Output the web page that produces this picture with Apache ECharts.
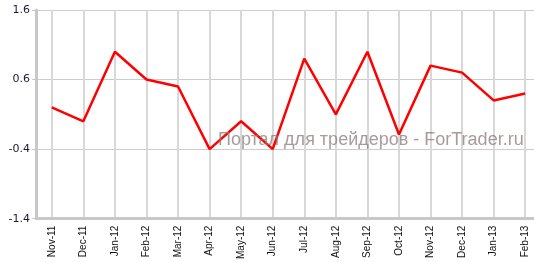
<!DOCTYPE html>
<html><head><meta charset="utf-8">
<script src="https://cdn.jsdelivr.net/npm/echarts@6/dist/echarts.min.js"></script>
<style>html,body{margin:0;padding:0;background:#fff;overflow:hidden;width:534px;height:262px}#c{width:541px;height:262px}</style>
</head><body><div id="c"></div>
<script>
const categories = ['Nov-11','Dec-11','Jan-12','Feb-12','Mar-12','Apr-12','May-12','Jun-12','Jul-12','Aug-12','Sep-12','Oct-12','Nov-12','Dec-12','Jan-13','Feb-13'];
const values = [0.2, 0.0, 1.0, 0.6, 0.5, -0.4, 0.0, -0.4, 0.9, 0.1, 1.0, -0.19, 0.8, 0.7, 0.3, 0.4];
const yTicks = [-1.4, -0.4, 0.6, 1.6];
const watermark = 'Портал для трейдеров - ForTrader.ru';

const chart = echarts.init(document.getElementById('c'), null, {renderer:'canvas'});
chart.setOption({
  animation: false,
  backgroundColor: '#fff',
  grid: {left: 36, right: 0, top: 10, bottom: 42, containLabel: false},
  xAxis: {
    type: 'category', data: categories, boundaryGap: true,
    axisLine: {show: true, onZero: false, lineStyle: {color: '#c8c8c8', width: 3}},
    axisTick: {show: false, alignWithLabel: true},
    axisLabel: {rotate: 90, fontFamily: 'Liberation Sans', fontSize: 10, color: '#111', margin: 7, interval: 0},
    splitLine: {show: true, alignWithLabel: true, lineStyle: {color: '#d8d8d8', width: 2}}
  },
  yAxis: {
    type: 'value', min: yTicks[0], max: yTicks[yTicks.length-1], interval: 1,
    axisLine: {show: true, lineStyle: {color: '#c8c8c8', width: 3}},
    axisTick: {show: true, length: 4, lineStyle: {color: '#c8c8c8'}},
    axisLabel: {fontFamily: 'DejaVu Sans', fontSize: 11, color: '#1a1a33', margin: 6,
      formatter: v => v.toFixed(1)},
    splitLine: {show: true, lineStyle: {color: '#cccccc', width: 1}}
  },
  series: [{
    type: 'line', data: values, symbol: 'none',
    lineStyle: {color: '#ff0000', width: 2.5}, z: 2
  }],
  graphic: [{
    type: 'text', left: 218, top: 131, z: 100,
    style: {text: watermark, font: '18px "Liberation Sans"', fill: 'rgba(140,120,120,0.75)'}
  }]
});
</script></body></html>
